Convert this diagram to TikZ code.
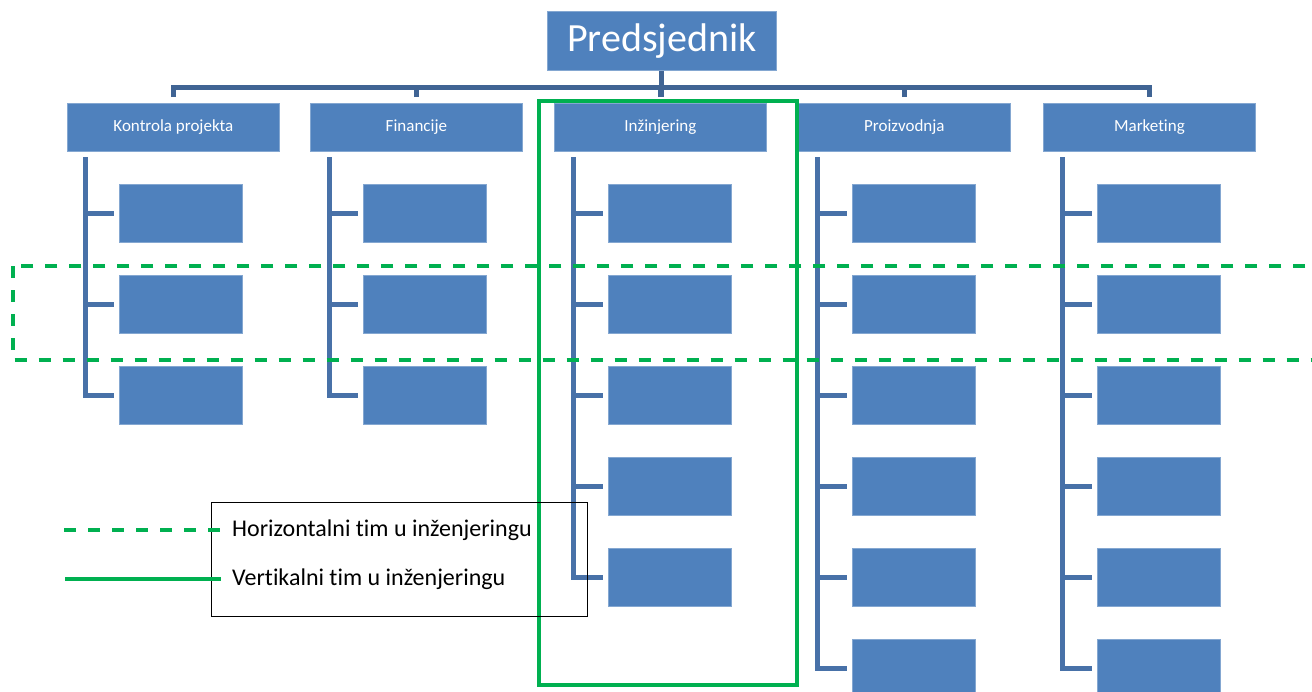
\documentclass[tikz,border=0pt]{standalone}
\usepackage{fontspec}
\setmainfont[Ligatures={NoCommon}]{Carlito}
\definecolor{boxblue}{RGB}{79,129,189}
\definecolor{busblue}{RGB}{64,100,148}
\definecolor{spineblue}{RGB}{72,113,168}
\definecolor{teamgreen}{RGB}{0,176,80}
\tikzset{
  topbox/.style={fill=boxblue, draw=boxblue!70!white, line width=0.8pt, inner sep=0pt, anchor=north west,
    minimum width=212pt, minimum height=48pt, text=white, font=\fontsize{17}{20}\selectfont},
  chbox/.style={fill=boxblue, draw=boxblue!70!white, line width=0.8pt, inner sep=0pt, anchor=north west,
    minimum width=123pt, minimum height=58pt},
  bigbox/.style={fill=boxblue, draw=boxblue!70!white, line width=0.8pt, inner sep=0pt, anchor=north west,
    minimum width=229pt, minimum height=59pt, text=white, font=\fontsize{40}{46}\selectfont},
  bus/.style={draw=busblue, line width=5pt},
  spine/.style={draw=spineblue, line width=5pt},
  hteam/.style={draw=teamgreen, line width=4pt, dash pattern=on 12pt off 12pt},
  vteam/.style={draw=teamgreen, line width=4pt},
  legendbox/.style={draw=black, line width=1.2pt, inner sep=0pt, anchor=north west,
    minimum width=376pt, minimum height=114pt},
  legtext/.style={anchor=west, inner xsep=11pt, inner ysep=0pt, font=\fontsize{24}{28}\selectfont}
}
\begin{document}
\begin{tikzpicture}[x=1pt,y=-1pt]
\useasboundingbox (0,0) rectangle (1312,691);
% president
\node[bigbox] (p) at (547,11) {Predsjednik};
% top-level departments
\foreach \i/\x/\lab in {1/67/Kontrola projekta, 2/310/Financije, 3/554/Inžinjering, 4/798/Proizvodnja, 5/1043/Marketing}{
  \node[topbox] (h\i) at (\x,103) {\lab};
}
% children
\foreach \i/\sx/\cx/\n in {1/85/119/3, 2/329/363/3, 3/573/608/5, 4/817/852/6, 5/1062/1097/6}{
  \coordinate (s\i) at (\sx,157);
  \foreach \j in {1,...,\n}{
    \node[chbox] (c-\i-\j) at (\cx,{184+91*(\j-1)}) {};
    \draw[spine] (s\i |- c-\i-\j.west) -- ([xshift=-5pt]c-\i-\j.west);
  }
  \draw[spine] (s\i) |- ([xshift=-5pt]c-\i-\n.west);
}
% bus
\draw[bus] (p.south) -- ([yshift=6pt]p.south |- h3.north);
\draw[bus] ([yshift=6pt]h1.north) -- ([yshift=16pt]h1.north) -- ([yshift=16pt]h5.north) -- ([yshift=6pt]h5.north);
\foreach \k in {2,3,4}{
  \draw[bus] ([yshift=6pt]h\k.north) -- ([yshift=16pt]h\k.north);
}
% teams
\draw[hteam] (12.7,266) rectangle (1345,360);
\draw[vteam] (539,101) rectangle (797,685);
% legend
\node[legendbox] (lg) at (211,502) {};
\node[legtext] (lh) at (221,530) {Horizontalni tim u inženjeringu};
\node[legtext] (lv) at (221,579) {Vertikalni tim u inženjeringu};
\coordinate (lhs) at (64,530);
\coordinate (lvs) at (65,579);
\draw[hteam] (lhs) -- (lh.west);
\draw[vteam] (lvs) -- (lv.west);
\end{tikzpicture}
\end{document}
